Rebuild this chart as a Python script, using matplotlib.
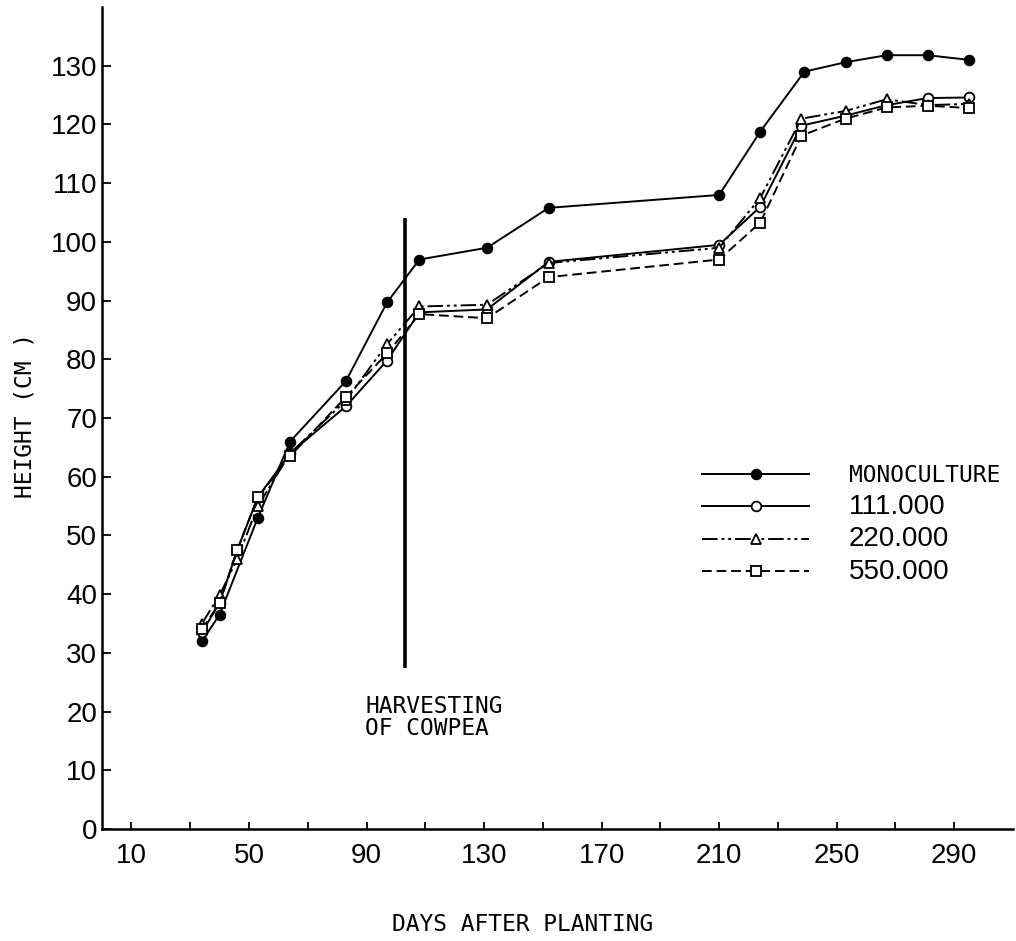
import numpy as np
import matplotlib
matplotlib.use("Agg")
import matplotlib.pyplot as plt

# data
days_mono = [34, 40, 53, 64, 83, 97, 108, 131, 152, 210, 224, 239, 253, 267, 281, 295]
height_mono = [32, 36.5, 53, 66, 76.3, 89.7, 97, 99, 105.8, 108, 118.8, 129, 130.6, 131.8, 131.8, 131]

days = [34, 40, 46, 53, 64, 83, 97, 108, 131, 152, 210, 224, 238, 253, 267, 281, 295]
height_111 = [33.5, 38.5, 47.5, 56.5, 64, 72, 79.8, 88, 88.5, 96.6, 99.5, 106, 119.8, 121.5, 123.3, 124.5, 124.6]
height_220 = [35, 39.8, 46, 55, 64, 73, 82.6, 89, 89.3, 96.4, 99.0, 107.5, 121, 122.3, 124.3, 123.3, 123.5]
height_550 = [34, 38.5, 47.5, 56.5, 63.5, 73.6, 81, 87.7, 87.0, 94.0, 97.0, 103.3, 118.1, 121, 122.9, 123.2, 122.8]

harvest_day = 103
harvest_range = (27.5, 104)

xticks_major = list(range(10, 291, 40))
xticks_minor = list(range(30, 291, 40))
yticks = list(range(0, 131, 10))

num_font = ["Liberation Sans", "DejaVu Sans"]
mono_font = ["DejaVu Sans Mono"]

fig = plt.figure(figsize=(10.16, 9.41), dpi=100)
ax = fig.add_axes([0.1004, 0.119, 0.8967, 0.8735])

kw = dict(color="black", lw=1.4, markersize=7, mew=1.3)
ax.plot(days_mono, height_mono, "-", marker="o", mfc="black", label="MONOCULTURE", **kw)
ax.plot(days, height_111, "-", marker="o", mfc="white", label="111.000", **kw)
ax.plot(days, height_220, linestyle=(0, (8, 2, 1.5, 2, 1.5, 2)), marker="^", mfc="white",
        label="220.000", **kw)
ax.plot(days, height_550, linestyle=(0, (5, 2.5)), marker="s", mfc="white", label="550.000", **kw)

ax.vlines(harvest_day, *harvest_range, color="black", lw=2.6)
ax.text(89.5, 19, "HARVESTING\nOF COWPEA", family=mono_font, fontsize=16.5,
        va="center", ha="left", linespacing=0.9)

ax.set_xlim(0, 310)
ax.set_ylim(0, 140)
ax.set_xticks(xticks_major)
ax.set_xticks(xticks_minor, minor=True)
ax.set_yticks(yticks)

for s in ("top", "right"):
    ax.spines[s].set_visible(False)
for s in ("left", "bottom"):
    ax.spines[s].set_linewidth(1.8)

ax.tick_params(axis="y", direction="in", length=6.5, width=1.3, pad=3.5)
ax.tick_params(axis="x", which="both", direction="in", length=5, width=1.3, pad=10)
for lab in ax.get_xticklabels() + ax.get_yticklabels():
    lab.set_family(num_font)
    lab.set_fontsize(20)

fig.text(0.4616 * 0.8967 + 0.1004, 0.018, "DAYS AFTER PLANTING", family=mono_font,
         fontsize=16.5, ha="center", va="center")
fig.text(0.0246, 0.558, "HEIGHT (CM )", family=mono_font, fontsize=16.5,
         rotation=90, ha="center", va="center")

leg = ax.legend(loc="upper left", bbox_to_anchor=(0.659, 0.444), frameon=False,
                handlelength=4.8, handletextpad=1.8, labelspacing=0.3,
                borderpad=0, borderaxespad=0, prop={"size": 16})
for i, t in enumerate(leg.get_texts()):
    if i == 0:
        t.set_family(mono_font)
        t.set_fontsize(16.5)
    else:
        t.set_family(num_font)
        t.set_fontsize(20)

fig.savefig("out.png", dpi=100)
